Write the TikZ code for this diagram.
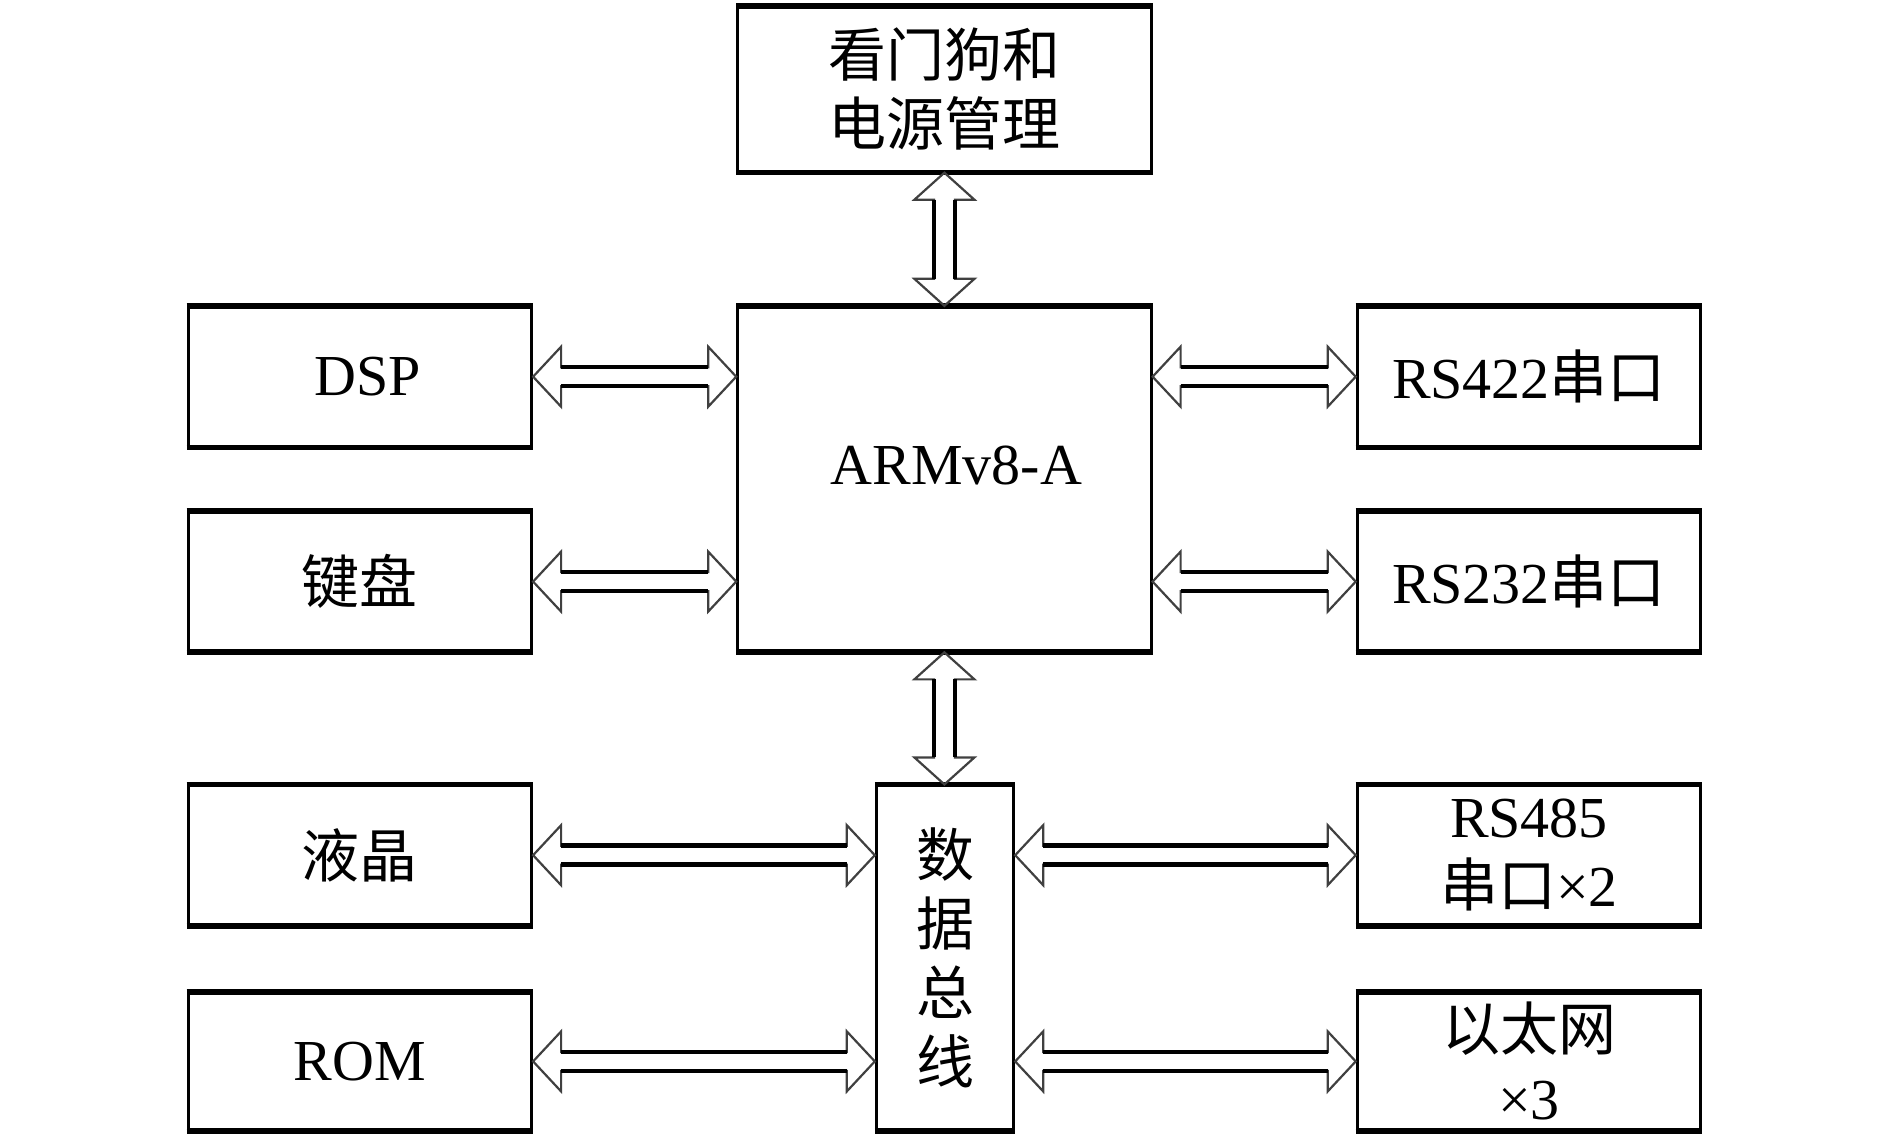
\documentclass[tikz,border=0pt]{standalone}
\usepackage{fontspec}
\setmainfont{Liberation Serif}
\newfontfamily\cjk{Noto Sans CJK SC}
\usetikzlibrary{calc}
\tikzset{
  txt/.style={font=\fontsize{29}{34.5}\selectfont},
  cjktxt/.style={font=\cjk\fontsize{29}{34.5}\selectfont},
  box/.style={draw, line width=1.5pt, inner sep=0pt, align=center, txt},
  wide/.style={minimum width=171.8pt, minimum height=69.3pt},
  low/.style={minimum width=171.8pt, minimum height=68.2pt},
  edge/.style={line width=2.6pt},
  arrhead/.style={draw=black!75, line width=1.1pt, line join=miter},
  arrshaft/.style={draw=black, line width=2.25pt},
}
\newcommand\hdarr[2]{%
  \draw[arrhead] let \p1=(#1), \p2=(#2) in
    (\x1,\y1) -- (\x1+14pt,\y1+15pt) -- (\x1+14pt,\y1+4.75pt) -- (\x2-14pt,\y1+4.75pt)
    -- (\x2-14pt,\y1+15pt) -- (\x2,\y1) -- (\x2-14pt,\y1-15pt) -- (\x2-14pt,\y1-4.75pt)
    -- (\x1+14pt,\y1-4.75pt) -- (\x1+14pt,\y1-15pt) -- cycle;
  \draw[arrshaft] let \p1=(#1), \p2=(#2) in
    (\x1+14pt,\y1+4.75pt) -- (\x2-14pt,\y1+4.75pt)
    (\x1+14pt,\y1-4.75pt) -- (\x2-14pt,\y1-4.75pt);
}
\newcommand\vdarr[2]{%
  \draw[arrhead] let \p1=(#1), \p2=(#2) in
    (\x1,\y1) -- (\x1-15pt,\y1-13.5pt) -- (\x1-5.25pt,\y1-13.5pt) -- (\x1-5.25pt,\y2+13.5pt)
    -- (\x1-15pt,\y2+13.5pt) -- (\x1,\y2) -- (\x1+15pt,\y2+13.5pt) -- (\x1+5.25pt,\y2+13.5pt)
    -- (\x1+5.25pt,\y1-13.5pt) -- (\x1+15pt,\y1-13.5pt) -- cycle;
  \draw[arrshaft] let \p1=(#1), \p2=(#2) in
    (\x1-5.25pt,\y1-13.5pt) -- (\x1-5.25pt,\y2+13.5pt)
    (\x1+5.25pt,\y1-13.5pt) -- (\x1+5.25pt,\y2+13.5pt);
}
\begin{document}
\begin{tikzpicture}[x=0.5pt,y=-0.5pt]
\useasboundingbox (0,0) rectangle (1890,1134);

% boxes
\node[box, cjktxt, minimum width=206.7pt, minimum height=82pt] (wd) at (944.4,89.2) {看门狗和\\电源管理};
\node[box, minimum width=206.7pt, minimum height=171.75pt] (arm) at (944.4,479.1) {\hspace*{12pt}\raisebox{7pt}[\height][\depth]{ARMv8-A}};
\node[box, wide] (dsp) at (359.8,376.7) {\hspace*{8pt}DSP};
\node[box, wide, cjktxt] (kb) at (359.8,581.6) {键盘};
\node[box, wide] (rs422) at (1529,376.7) {RS422{\cjk 串口}};
\node[box, wide] (rs232) at (1529,581.6) {RS232{\cjk 串口}};
\node[box, wide, cjktxt] (lcd) at (359.8,855.2) {液晶};
\node[box, low] (rom) at (359.8,1061.4) {ROM};
\node[box, cjktxt, minimum width=68.7pt, minimum height=171.75pt] (bus) at (945,957.7) {数\\据\\总\\线};
\node[box, wide] (rs485) at (1529,855.2) {RS485\\{\cjk 串口}×2};
\node[box, low] (eth) at (1529,1061.4) {{\cjk 以太网}\\×3};

% thicker top and bottom edges
\foreach \n in {wd,arm,dsp,kb,rs422,rs232,lcd,rom,bus,rs485,eth}
  \draw[edge] (\n.north west) -- (\n.north east) (\n.south west) -- (\n.south east);

% double arrows
\vdarr{wd.south}{arm.north}
\vdarr{arm.south}{bus.north}
\hdarr{dsp.east}{dsp.east -| arm.west}
\hdarr{kb.east}{kb.east -| arm.west}
\hdarr{rs422.west -| arm.east}{rs422.west}
\hdarr{rs232.west -| arm.east}{rs232.west}
\hdarr{lcd.east}{lcd.east -| bus.west}
\hdarr{rom.east}{rom.east -| bus.west}
\hdarr{rs485.west -| bus.east}{rs485.west}
\hdarr{eth.west -| bus.east}{eth.west}
\end{tikzpicture}
\end{document}
